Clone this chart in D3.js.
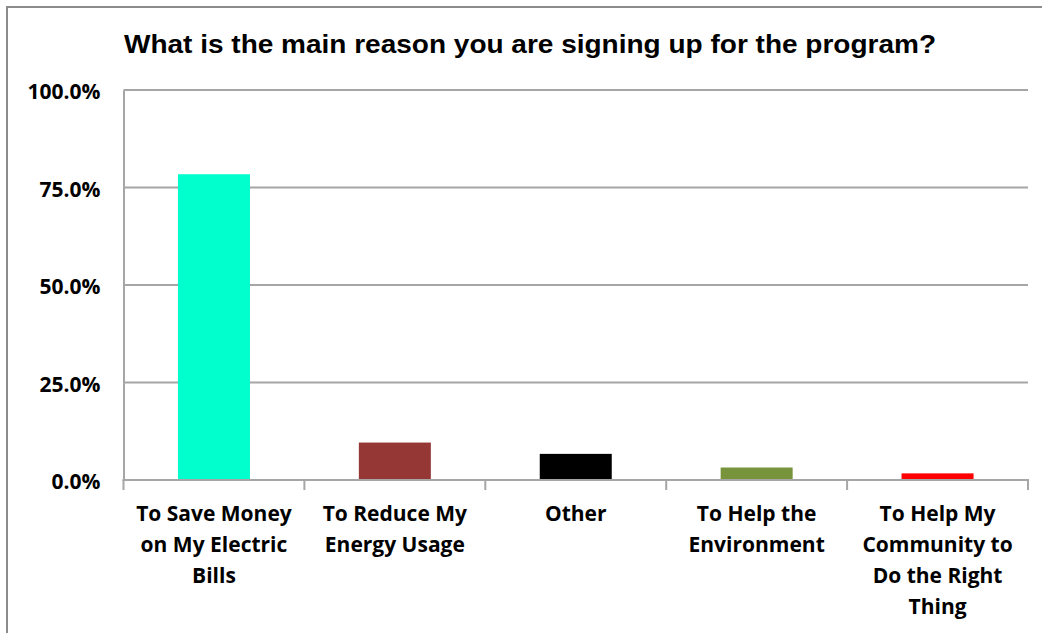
<!DOCTYPE html>
<html>
<head>
<meta charset="utf-8">
<script src="https://cdn.jsdelivr.net/npm/d3@7"></script>
<style>
  html, body { margin: 0; padding: 0; background: #fff; }
  svg { display: block; }
</style>
</head>
<body>
<svg id="chart" width="1042" height="633"></svg>
<script>
// Survey answers and their share of respondents
const categories = [
  ["To Save Money", "on My Electric", "Bills"],
  ["To Reduce My", "Energy Usage"],
  ["Other"],
  ["To Help the", "Environment"],
  ["To Help My", "Community to", "Do the Right", "Thing"]
];
const shares = [0.784, 0.096, 0.067, 0.032, 0.017];
const barColors = ["#00ffcc", "#953735", "#000000", "#77933c", "#ff0000"];
const yTicks = [0, 0.25, 0.5, 0.75, 1.0];
const title = "What is the main reason you are signing up for the program?";

const svg = d3.select("#chart");
const W = 1042, H = 633;
const plot = { left: 123.5, right: 1028, top: 90, bottom: 480 };

// outer frame
svg.append("path")
  .attr("d", `M7,${H + 5} V7 H${W + 5}`)
  .attr("fill", "none")
  .attr("stroke", "#8c8c8c")
  .attr("stroke-width", 2);

const x = d3.scaleBand()
  .domain(d3.range(categories.length))
  .range([plot.left, plot.right])
  .paddingInner(0)
  .paddingOuter(0);

const y = d3.scaleLinear().domain([0, 1]).range([plot.bottom, plot.top]);

const fontStack = "'Open Sans', Lato, 'Liberation Sans', sans-serif";

// title
svg.append("text")
  .attr("x", 530)
  .attr("y", 53)
  .attr("text-anchor", "middle")
  .attr("font-family", "'Liberation Sans', Arial, sans-serif")
  .attr("font-weight", "bold")
  .attr("font-size", 26)
  .attr("textLength", 812)
  .attr("lengthAdjust", "spacingAndGlyphs")
  .attr("fill", "#000")
  .text(title);

// horizontal gridlines
svg.append("g")
  .selectAll("line")
  .data(yTicks.filter(d => d > 0))
  .join("line")
  .attr("x1", plot.left)
  .attr("x2", plot.right)
  .attr("y1", d => y(d))
  .attr("y2", d => y(d))
  .attr("stroke", "#a6a6a6")
  .attr("stroke-width", 2);

// y axis with percentage labels
const yAxis = svg.append("g")
  .attr("transform", `translate(${plot.left},0)`)
  .call(d3.axisLeft(y).tickValues(yTicks).tickFormat(d3.format(".1%")).tickSize(0).tickPadding(23));
yAxis.select(".domain").attr("stroke", "#a6a6a6").attr("stroke-width", 2);
yAxis.selectAll("text")
  .attr("font-family", fontStack)
  .attr("font-weight", "bold")
  .attr("font-size", 21)
  .attr("dy", "0.42em")
  .attr("fill", "#000");

// bars
const barW = 72;
svg.append("g")
  .selectAll("rect")
  .data(shares)
  .join("rect")
  .attr("x", (d, i) => x(i) + x.bandwidth() / 2 - barW / 2)
  .attr("width", barW)
  .attr("y", d => y(d))
  .attr("height", d => y(0) - y(d))
  .attr("fill", (d, i) => barColors[i]);

// x axis baseline and category separator ticks
const xAxis = svg.append("g");
xAxis.append("line")
  .attr("x1", plot.left - 1)
  .attr("x2", plot.right + 1)
  .attr("y1", y(0))
  .attr("y2", y(0))
  .attr("stroke", "#a6a6a6")
  .attr("stroke-width", 2);
xAxis.selectAll("line.sep")
  .data(d3.range(categories.length + 1))
  .join("line")
  .attr("class", "sep")
  .attr("x1", i => i < categories.length ? x(i) : plot.right)
  .attr("x2", i => i < categories.length ? x(i) : plot.right)
  .attr("y1", y(0))
  .attr("y2", y(0) + 10)
  .attr("stroke", "#a6a6a6")
  .attr("stroke-width", 2);

// wrapped category labels
const labels = svg.append("g")
  .selectAll("text")
  .data(categories)
  .join("text")
  .attr("text-anchor", "middle")
  .attr("font-family", fontStack)
  .attr("font-weight", "bold")
  .attr("font-size", 21)
  .attr("fill", "#000");
labels.selectAll("tspan")
  .data((d, i) => d.map(line => ({ line, i })))
  .join("tspan")
  .attr("x", d => x(d.i) + x.bandwidth() / 2)
  .attr("y", (d, j) => 521 + j * 31)
  .text(d => d.line);
</script>
</body>
</html>
